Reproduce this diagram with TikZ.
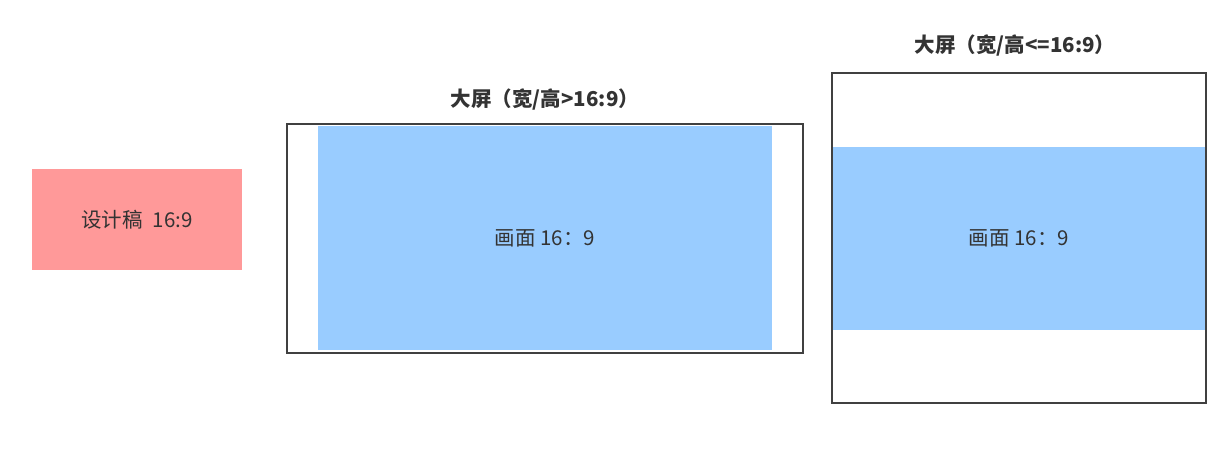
\documentclass[tikz,border=0pt]{standalone}
\usepackage{fontspec}
\setmainfont{Noto Sans CJK SC}
\definecolor{designred}{HTML}{FF9999}
\definecolor{picblue}{HTML}{99CCFF}
\definecolor{framegray}{HTML}{404040}
\definecolor{textgray}{HTML}{333333}
\tikzset{
    fillbox/.style={rectangle, inner sep=0pt, text=textgray, font=\fontsize{20.5}{24}\selectfont},
    screenbox/.style={rectangle, inner sep=0pt, draw=framegray, line width=2pt},
    screentitle/.style={inner sep=0pt, text=textgray, font=\fontsize{20.5}{24}\selectfont\bfseries}
}
\begin{document}
\begin{tikzpicture}[x=1pt, y=-1pt]
    \useasboundingbox (0,0) rectangle (1227,467);
    \path   node[fillbox, fill=designred, minimum width=210pt, minimum height=101pt] (D) at (137, 219.5) {设计稿\hspace{0.5em}16:9}
            node[fillbox, fill=picblue, minimum width=454pt, minimum height=224pt] (PA) at (545, 238) {画面 16：9}
            node[screenbox, minimum width=516pt, minimum height=229pt] (SA) at (545, 238) {}
            node[screentitle] (TA) at (545, 99) {大屏（宽/高>16:9）}
            node[fillbox, fill=picblue, minimum width=376pt, minimum height=183pt] (PB) at (1019, 238.5) {画面 16：9}
            node[screenbox, minimum width=374pt, minimum height=330pt] (SB) at (1019, 238) {}
            node[screentitle] (TB) at (1015, 45) {大屏（宽/高<=16:9）};
\end{tikzpicture}
\end{document}
